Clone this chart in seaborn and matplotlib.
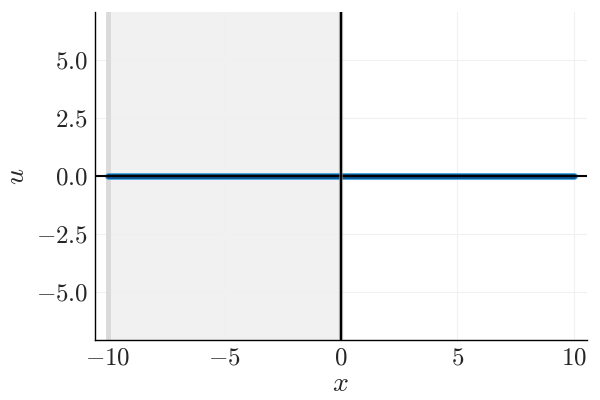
import matplotlib
matplotlib.use("Agg")
import matplotlib.pyplot as plt
import seaborn as sns
import pandas as pd

x_vals = [-10.0, -5.0, 0.0, 5.0, 10.0]
u_vals = [0.0, 0.0, 0.0, 0.0, 0.0]
shade_range = [-10.0, 0.0]
boundary_x = -10.0
xticks = [-10, -5, 0, 5, 10]
yticks = [-5.0, -2.5, 0.0, 2.5, 5.0]

sns.set_theme(style="white")
plt.rcParams['font.family'] = ['DejaVu Serif']
plt.rcParams['mathtext.fontset'] = 'cm'

fig = plt.figure(figsize=(6, 4), dpi=100)
ax = fig.add_axes([0.158, 0.15, 0.82, 0.82])

ax.axvspan(shade_range[0], shade_range[1], color='#f1f1f1', lw=0, zorder=0)
ax.axvline(boundary_x, color='#dadada', lw=3.5, zorder=1)

df = pd.DataFrame({"x": x_vals, "u": u_vals})
sns.lineplot(data=df, x="x", y="u", ax=ax, color='#4aa8e0', lw=5, zorder=3)
sns.lineplot(data=df, x="x", y="u", ax=ax, color='#0b4f8c', lw=3.5, zorder=3.5)
ax.axhline(0, color='black', lw=1.5, zorder=4)
ax.axvline(0, color='#888888', lw=3, zorder=4, alpha=0.6)
ax.axvline(0, color='black', lw=1.5, zorder=5)

ax.set_xlim(-10.56, 10.56)
ax.set_ylim(-7.08, 7.05)
ax.set_xticks(xticks)
ax.set_yticks(yticks)
ax.set_xticklabels([f"${t}$" for t in xticks], fontsize=18)
ax.set_yticklabels([f"${t:.1f}$" for t in yticks], fontsize=18)
ax.grid(True, color='#f0f0f0', lw=0.8)
ax.set_axisbelow(True)
ax.tick_params(direction='in', length=4, width=0.8, color='black', pad=5)
for s in ['top', 'right']:
    ax.spines[s].set_visible(False)
for s in ['left', 'bottom']:
    ax.spines[s].set_color('black')
    ax.spines[s].set_linewidth(1.0)
ax.set_xlabel(r"$x$", fontsize=20, labelpad=0)
ax.set_ylabel(r"$u$", fontsize=20, labelpad=4)

fig.savefig("out.png", dpi=100)
